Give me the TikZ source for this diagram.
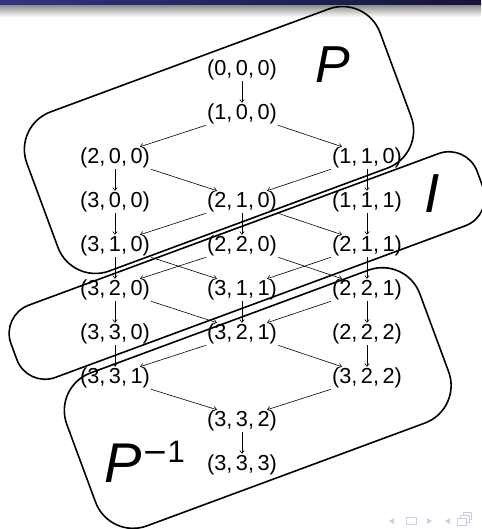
\documentclass[tikz,border=0pt]{standalone}
\usepackage{fontspec}
\setmainfont{Liberation Sans}
\newfontfamily\dejavufam{DejaVu Sans}
\usetikzlibrary{arrows.meta,calc}
\definecolor{hdrL}{rgb}{0.20,0.20,0.52}
\definecolor{hdrR}{rgb}{0.08,0.08,0.22}
\definecolor{navc}{rgb}{0.80,0.80,0.92}
\tikzset{
  lat/.style={font=\fontsize{21.7}{26}\selectfont, inner sep=1pt},
  arr/.style={-{To[length=3.5pt,width=5pt]}, line width=0.6pt},
  blob/.style={draw, line width=1.6pt, inner sep=0pt},
  biglabel/.style={inner sep=0pt, font=\itshape}
}
\begin{document}
\begin{tikzpicture}[x=1pt,y=-1pt]
\useasboundingbox (0,0) rectangle (481,529);
% header bar and shadow
\shade[top color=black!45, bottom color=white] (0,5) rectangle (481,17);
\shade[left color=hdrL, right color=hdrR] (0,0) rectangle (481,5);

% lattice nodes
\node[lat] (n000) at (242,70)  {(0,\,0,\,0)};
\node[lat] (n100) at (242,114) {(1,\,0,\,0)};
\node[lat] (n200) at (115,158) {(2,\,0,\,0)};
\node[lat] (n110) at (367,158) {(1,\,1,\,0)};
\node[lat] (n300) at (115,202) {(3,\,0,\,0)};
\node[lat] (n210) at (242,202) {(2,\,1,\,0)};
\node[lat] (n111) at (367,202) {(1,\,1,\,1)};
\node[lat] (n310) at (115,246) {(3,\,1,\,0)};
\node[lat] (n220) at (242,246) {(2,\,2,\,0)};
\node[lat] (n211) at (367,246) {(2,\,1,\,1)};
\node[lat] (n320) at (115,290) {(3,\,2,\,0)};
\node[lat] (n311) at (242,290) {(3,\,1,\,1)};
\node[lat] (n221) at (367,290) {(2,\,2,\,1)};
\node[lat] (n330) at (115,334) {(3,\,3,\,0)};
\node[lat] (n321) at (242,334) {(3,\,2,\,1)};
\node[lat] (n222) at (367,334) {(2,\,2,\,2)};
\node[lat] (n331) at (115,378) {(3,\,3,\,1)};
\node[lat] (n322) at (367,378) {(3,\,2,\,2)};
\node[lat] (n332) at (242,421) {(3,\,3,\,2)};
\node[lat] (n333) at (242,465) {(3,\,3,\,3)};

% vertical arrows
\foreach \a/\b in {000/100,200/300,300/310,310/320,320/330,330/331,
                   110/111,111/211,211/221,221/222,222/322,
                   210/220,311/321,332/333}
  \draw[arr] (n\a) -- (n\b);
% down-left arrows
\foreach \a/\b in {100/200,110/210,210/310,220/320,211/311,221/321,321/331,322/332}
  \draw[arr] (n\a.south west) -- ([xshift=-11pt]n\b.north east);
% down-right arrows
\foreach \a/\b in {100/110,200/210,210/211,310/311,220/221,320/321,321/322,331/332}
  \draw[arr] (n\a.south east) -- ([xshift=11pt]n\b.north west);

% rounded regions
\node[blob, rotate=20.3, minimum width=376.6pt, minimum height=169.6pt, rounded corners=40pt] (P) at (219,140) {};
\node[blob, rotate=20.3, minimum width=497pt, minimum height=77pt, rounded corners=30pt] (I) at (247,265.5) {};
\node[blob, rotate=20.3, minimum width=376.4pt, minimum height=163pt, rounded corners=40pt] (Pinv) at (257.7,398) {};

% region labels
\node[biglabel, anchor=base, font=\fontsize{52}{60}\selectfont\itshape] (Plab) at (333,83) {P};
\node[biglabel, anchor=base, font=\fontsize{55}{60}\selectfont\itshape] (Ilab) at (432,212) {I};
\node[biglabel, anchor=base west] (Pinvlab) at (104,482)
  {\fontsize{56}{60}\selectfont\itshape P\upshape\kern1pt\fontsize{31}{36}\selectfont\raisebox{20pt}{{\dejavufam −}\kern-1pt 1}};

% navigation symbols
\fill[navc] (389,521) -- (394,518) -- (394,524) -- cycle;
\draw[navc, line width=0.9pt] (406,517.5) rectangle (416,524);
\fill[navc] (427,518) -- (427,524) -- (432,521) -- cycle;
\fill[navc] (445,521) -- (450,518) -- (450,524) -- cycle;
\draw[navc, line width=0.9pt] (457,518) rectangle (466,525);
\draw[navc, line width=0.9pt] (460,518) -- (460,515) -- (469,515) -- (469,522) -- (466,522);
\draw[navc, line width=0.9pt] (463,515) -- (463,512) -- (471,512) -- (471,519) -- (469,519);
\end{tikzpicture}
\end{document}
